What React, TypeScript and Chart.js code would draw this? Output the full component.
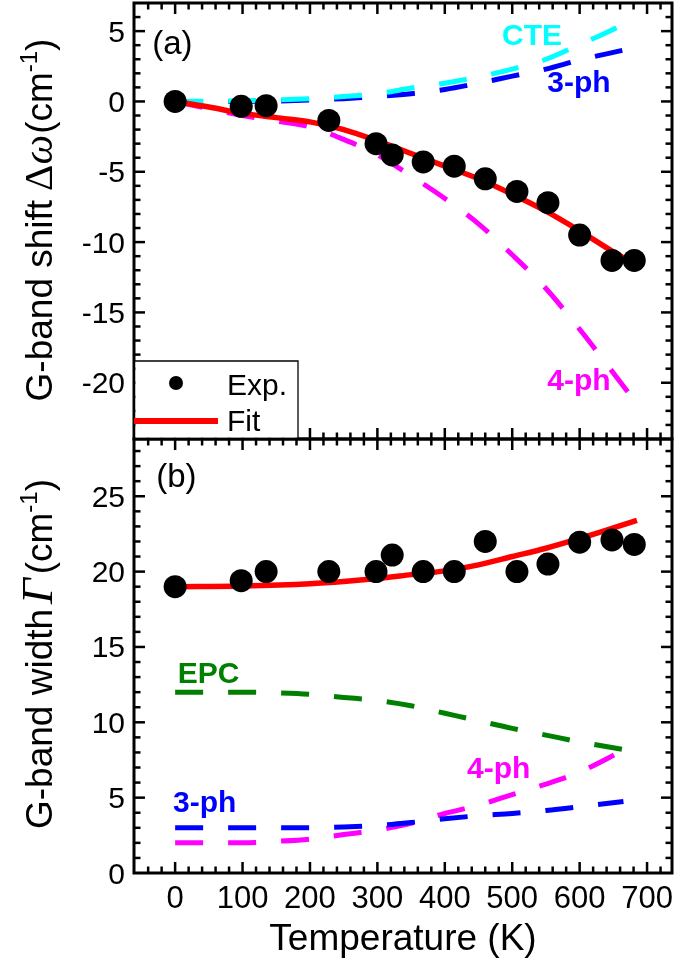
import React, { useEffect, useRef } from 'react';
import { Chart, registerables } from 'chart.js';

Chart.register(...registerables);

// ---------- Data ----------
// Experimental points (temperature in K)
const tExp = [0, 98, 135, 228, 298, 322, 368, 414, 460, 507, 553, 600, 648, 681];
const shiftExp = [0, -0.35, -0.3, -1.35, -3.0, -3.8, -4.3, -4.6, -5.5, -6.4, -7.2, -9.5, -11.3, -11.3];
const widthExp = [19.0, 19.4, 20.0, 20.0, 20.0, 21.1, 20.0, 20.0, 22.0, 20.0, 20.5, 21.95, 22.1, 21.8];

// (a) shift model curves
const tShiftFit = [0, 50, 100, 150, 200, 250, 300, 350, 400, 450, 500, 550, 600, 650, 675];
const shiftFit = [0, -0.4, -0.85, -1.15, -1.45, -2.0, -2.8, -3.7, -4.6, -5.5, -6.6, -7.8, -9.2, -10.7, -11.4];
const tCte = [0, 100, 200, 250, 300, 350, 400, 450, 500, 550, 600, 640, 665];
const shiftCte = [0, 0.05, 0.2, 0.35, 0.55, 0.95, 1.3, 1.75, 2.3, 3.0, 4.05, 4.9, 5.5];
const t3phA = [0, 100, 200, 250, 300, 350, 400, 450, 500, 550, 600, 665];
const shift3ph = [0, 0, 0.1, 0.2, 0.35, 0.55, 0.85, 1.3, 1.8, 2.3, 2.95, 3.65];
const t4phA = [0, 100, 150, 200, 250, 300, 350, 400, 450, 500, 550, 600, 650, 685];
const shift4ph = [0, -1.0, -1.4, -1.8, -2.7, -3.8, -5.3, -6.9, -8.7, -10.9, -13.3, -16.2, -19.3, -21.5];

// (b) width model curves
const tWidthFit = [0, 100, 200, 250, 300, 350, 400, 450, 500, 550, 600, 650, 685];
const widthFit = [19.0, 19.05, 19.2, 19.35, 19.55, 19.8, 20.05, 20.45, 21.0, 21.55, 22.2, 22.9, 23.4];
const tModelB = [0, 100, 150, 200, 250, 300, 350, 400, 450, 500, 550, 600, 665];
const widthEpc = [12.0, 12.0, 11.95, 11.85, 11.65, 11.45, 11.1, 10.6, 10.1, 9.6, 9.15, 8.7, 8.2];
const width3ph = [3.0, 3.0, 3.0, 3.0, 3.05, 3.15, 3.35, 3.6, 3.8, 3.95, 4.15, 4.4, 4.75];
const width4ph = [2.0, 2.0, 2.1, 2.25, 2.55, 2.85, 3.3, 3.95, 4.5, 5.2, 5.9, 6.7, 8.15];

// Ticks
const xTicks = [0, 100, 200, 300, 400, 500, 600, 700];
const yTicksTop = [5, 0, -5, -10, -15, -20];
const yTicksBot = [0, 5, 10, 15, 20, 25];
const xMinorStep = 20;
const yMinorStep = 1;

const SANS = '"Liberation Sans", Arial, Helvetica, sans-serif';
const SERIF = '"Liberation Serif", "Times New Roman", serif';

const pts = (xs: number[], ys: number[]) => xs.map((x, i) => ({ x, y: ys[i] }));

const framePlugin = {
  id: 'frame',
  afterDatasetsDraw(chart: any) {
    const ctx: CanvasRenderingContext2D = chart.ctx;
    const xs = chart.scales.x;
    const yt = chart.scales.yTop;
    const yb = chart.scales.yBot;
    const L = chart.chartArea.left;
    const R = chart.chartArea.right;
    const MAJ = 11;
    const MIN = 6.5;
    const panels = [
      { s: yt, majors: yTicksTop },
      { s: yb, majors: yTicksBot },
    ];
    const seg = (x1: number, y1: number, x2: number, y2: number) => {
      ctx.beginPath();
      ctx.moveTo(x1, y1);
      ctx.lineTo(x2, y2);
      ctx.stroke();
    };
    ctx.save();
    ctx.strokeStyle = '#000';
    ctx.lineWidth = 2.5;
    ctx.lineCap = 'butt';
    // x ticks on top and bottom of each panel
    const xi0 = Math.ceil(xs.min / xMinorStep);
    const xi1 = Math.floor(xs.max / xMinorStep);
    for (let i = xi0; i <= xi1; i++) {
      const v = i * xMinorStep;
      const px = xs.getPixelForValue(v);
      if (px <= L + 2 || px >= R - 2) continue;
      const len = xTicks.includes(v) ? MAJ : MIN;
      for (const p of panels) {
        seg(px, p.s.top, px, p.s.top + len);
        seg(px, p.s.bottom, px, p.s.bottom - len);
      }
    }
    // y ticks on left and right
    for (const p of panels) {
      const s = p.s;
      const i0 = Math.ceil(s.min / yMinorStep);
      const i1 = Math.floor(s.max / yMinorStep);
      for (let i = i0; i <= i1; i++) {
        const v = i * yMinorStep;
        const py = s.getPixelForValue(v);
        if (py <= s.top + 2 || py >= s.bottom - 2) continue;
        const len = p.majors.includes(v) ? MAJ : MIN;
        seg(L, py, L + len, py);
        seg(R, py, R - len, py);
      }
    }
    // frames
    ctx.lineWidth = 3;
    for (const p of panels) {
      ctx.strokeRect(L, p.s.top, R - L, p.s.bottom - p.s.top);
    }

    // legend box inside panel (a)
    const lx0 = L;
    const lx1 = L + 164;
    const ly1 = yt.bottom;
    const ly0 = ly1 - 78;
    ctx.fillStyle = '#fff';
    ctx.fillRect(lx0 + 1.5, ly0, lx1 - lx0 - 1.5, ly1 - ly0 - 1.5);
    ctx.lineWidth = 1.3;
    ctx.strokeStyle = '#000';
    ctx.beginPath();
    ctx.moveTo(lx0, ly0);
    ctx.lineTo(lx1, ly0);
    ctx.lineTo(lx1, ly1);
    ctx.stroke();
    const dsExp = chart.data.datasets[0];
    const dsFit = chart.data.datasets[1];
    ctx.fillStyle = dsExp.pointBackgroundColor;
    ctx.beginPath();
    ctx.arc(lx0 + 42, ly0 + 22, 7, 0, Math.PI * 2);
    ctx.fill();
    ctx.strokeStyle = dsFit.borderColor;
    ctx.lineWidth = 6;
    seg(lx0, ly0 + 60, lx0 + 84, ly0 + 60);
    ctx.fillStyle = '#000';
    ctx.font = `30px ${SANS}`;
    ctx.textAlign = 'left';
    ctx.textBaseline = 'alphabetic';
    ctx.fillText(dsExp.label, lx0 + 93, ly0 + 34);
    ctx.fillText(dsFit.label, lx0 + 93, ly0 + 70);

    // tick labels
    ctx.font = `30px ${SANS}`;
    ctx.textAlign = 'right';
    for (const p of panels) {
      for (const v of p.majors) {
        ctx.fillText(String(v), L - 9, p.s.getPixelForValue(v) + 10.5);
      }
    }
    ctx.font = `31px ${SANS}`;
    ctx.textAlign = 'center';
    for (const v of xTicks) {
      ctx.fillText(String(v), xs.getPixelForValue(v), yb.bottom + 35);
    }
    // x title
    ctx.font = `37px ${SANS}`;
    ctx.fillText('Temperature (K)', (L + R) / 2, yb.bottom + 77);

    // y titles (rotated, mixed fonts)
    const drawRotTitle = (parts: { t: string; f: string; dy?: number; gap?: number }[], cx: number, cy: number) => {
      ctx.save();
      ctx.translate(cx, cy);
      ctx.rotate(-Math.PI / 2);
      ctx.textAlign = 'left';
      let total = 0;
      const widths = parts.map((p) => {
        ctx.font = p.f;
        const w = ctx.measureText(p.t).width + (p.gap || 0);
        total += w;
        return w;
      });
      let x = -total / 2;
      parts.forEach((p, i) => {
        ctx.font = p.f;
        ctx.fillText(p.t, x, p.dy || 0);
        x += widths[i];
      });
      ctx.restore();
    };
    ctx.fillStyle = '#000';
    drawRotTitle(
      [
        { t: 'G-band shift', f: `37px ${SANS}`, gap: 9 },
        { t: 'Δ', f: `41px ${SERIF}`, gap: 0 },
        { t: 'ω', f: `italic 42px ${SERIF}`, gap: 1 },
        { t: '(cm', f: `37px ${SANS}` },
        { t: '-1', f: `24px ${SANS}`, dy: -15 },
        { t: ')', f: `37px ${SANS}` },
      ],
      52,
      yt.top + 217
    );
    drawRotTitle(
      [
        { t: 'G-band width', f: `37px ${SANS}`, gap: 5 },
        { t: 'Γ', f: `italic 45px ${SERIF}`, gap: 4 },
        { t: '(cm', f: `37px ${SANS}` },
        { t: '-1', f: `24px ${SANS}`, dy: -15 },
        { t: ')', f: `37px ${SANS}` },
      ],
      52,
      yb.top + 215
    );

    // panel labels and curve annotations (anchored in data coordinates)
    ctx.textAlign = 'left';
    ctx.fillStyle = '#000';
    ctx.font = `33px ${SANS}`;
    ctx.fillText('(a)', xs.getPixelForValue(-34), yt.getPixelForValue(3.4));
    ctx.fillText('(b)', xs.getPixelForValue(-28), yb.getPixelForValue(25.6));
    const notes: [string, string, any, number, number][] = [
      ['CTE', '#00FFFF', yt, 485, 4.0],
      ['3-ph', '#0000FF', yt, 552, 0.67],
      ['4-ph', '#FF00FF', yt, 552, -20.5],
      ['EPC', '#008000', yb, 4, 12.6],
      ['3-ph', '#0000FF', yb, -3, 4.05],
      ['4-ph', '#FF00FF', yb, 433, 6.3],
    ];
    ctx.font = `bold 30px ${SANS}`;
    for (const [t, c, s, x, y] of notes) {
      ctx.fillStyle = c;
      ctx.fillText(t, xs.getPixelForValue(x), s.getPixelForValue(y));
    }
    ctx.restore();
  },
};

export default function App() {
  const ref = useRef<HTMLCanvasElement>(null);
  useEffect(() => {
    document.body.style.margin = '0';
    const dash = [28, 25];
    const dashed = (data: any, color: string, yAxisID: string) => ({
      data,
      yAxisID,
      xAxisID: 'x',
      borderColor: color,
      borderWidth: 5,
      borderDash: dash,
      pointRadius: 0,
      fill: false,
      cubicInterpolationMode: 'monotone' as const,
      order: 2,
    });
    const chart = new Chart(ref.current as HTMLCanvasElement, {
      type: 'line',
      data: {
        datasets: [
          {
            label: 'Exp.',
            data: pts(tExp, shiftExp),
            yAxisID: 'yTop',
            xAxisID: 'x',
            showLine: false,
            pointRadius: 11.5,
            pointBorderWidth: 0,
            pointBackgroundColor: '#000',
            borderColor: '#000',
            order: 0,
          },
          {
            label: 'Fit',
            data: pts(tShiftFit, shiftFit),
            yAxisID: 'yTop',
            xAxisID: 'x',
            borderColor: '#FF0000',
            borderWidth: 5.5,
            pointRadius: 0,
            cubicInterpolationMode: 'monotone',
            order: 1,
          },
          {
            label: 'Exp. width',
            data: pts(tExp, widthExp),
            yAxisID: 'yBot',
            xAxisID: 'x',
            showLine: false,
            pointRadius: 11.5,
            pointBorderWidth: 0,
            pointBackgroundColor: '#000',
            borderColor: '#000',
            order: 0,
          },
          {
            label: 'Fit width',
            data: pts(tWidthFit, widthFit),
            yAxisID: 'yBot',
            xAxisID: 'x',
            borderColor: '#FF0000',
            borderWidth: 5.5,
            pointRadius: 0,
            cubicInterpolationMode: 'monotone',
            order: 1,
          },
          { label: 'CTE', ...dashed(pts(tCte, shiftCte), '#00FFFF', 'yTop') },
          { label: '3-ph', ...dashed(pts(t3phA, shift3ph), '#0000FF', 'yTop') },
          { label: '4-ph', ...dashed(pts(t4phA, shift4ph), '#FF00FF', 'yTop') },
          { label: 'EPC', ...dashed(pts(tModelB, widthEpc), '#008000', 'yBot') },
          { label: '3-ph width', ...dashed(pts(tModelB, width3ph), '#0000FF', 'yBot') },
          { label: '4-ph width', ...dashed(pts(tModelB, width4ph), '#FF00FF', 'yBot') },
        ],
      } as any,
      options: {
        responsive: false,
        animation: false,
        devicePixelRatio: 1,
        events: [],
        layout: { autoPadding: false, padding: { left: 134, right: 3, top: 3, bottom: 93 } },
        plugins: { legend: { display: false }, tooltip: { enabled: false }, title: { display: false } },
        scales: {
          x: { type: 'linear', min: -61, max: 737, display: false },
          yTop: {
            type: 'linear',
            position: 'left',
            stack: 'panels',
            stackWeight: 436,
            weight: 2,
            min: -24,
            max: 7,
            display: false,
          },
          yBot: {
            type: 'linear',
            position: 'left',
            stack: 'panels',
            stackWeight: 434,
            weight: 1,
            min: 0,
            max: 28.8,
            display: false,
          },
        },
      } as any,
      plugins: [framePlugin],
    });
    return () => chart.destroy();
  }, []);
  return (
    <div style={{ width: 675, height: 966, background: '#fff' }}>
      <canvas ref={ref} width={675} height={966} style={{ display: 'block' }} />
    </div>
  );
}
